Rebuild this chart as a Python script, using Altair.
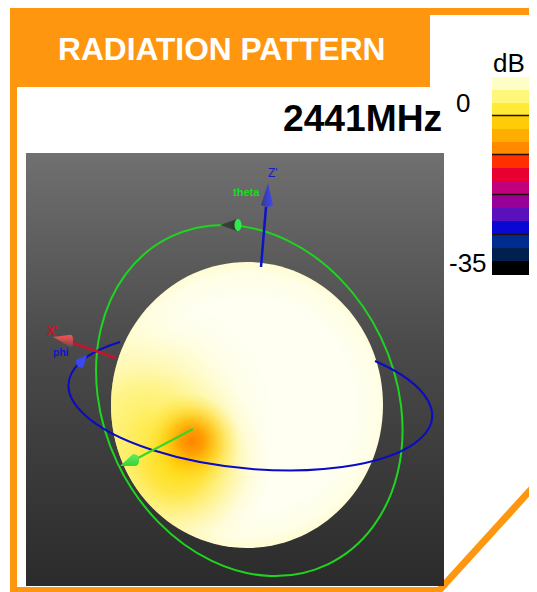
import altair as alt
import pandas as pd

# ---- chart data (page pixels) ----
band_edges = [77, 90, 103, 116, 129, 142, 155, 168, 182, 195, 208, 221, 235, 248, 261, 275]
band_colors = ["#fffdc6", "#fff67c", "#ffea35", "#ffcd08", "#ffad00", "#ff8a00", "#ff3000", "#e80030",
               "#c0007c", "#980098", "#5a10bc", "#0808d2", "#002c90", "#002050", "#000000"]
tick_lines = [115.5, 154.5, 194.5, 234.5]

SX = alt.Scale(domain=[8, 529], range=[0, 521])
SY = alt.Scale(domain=[8, 592], range=[0, 584])
ORANGE = "#ff9610"


def X(f="x"):
    return alt.X(f"{f}:Q", scale=SX, axis=None)


def Y(f="y"):
    return alt.Y(f"{f}:Q", scale=SY, axis=None)


def rect(x0, x1, y0, y1, **kw):
    d = pd.DataFrame({"x": [x0], "x2": [x1], "y": [y0], "y2": [y1]})
    return alt.Chart(d).mark_rect(**kw).encode(x=X(), x2="x2:Q", y=Y(), y2="y2:Q")


def line(xs, ys, color, width, **kw):
    d = pd.DataFrame({"x": xs, "y": ys, "o": range(len(xs))})
    return alt.Chart(d).mark_line(color=color, strokeWidth=width, **kw).encode(
        x=X(), y=Y(), order="o:Q")


def label(t, x, y, size, color, bold=False, align="left"):
    d = pd.DataFrame({"x": [x], "y": [y], "t": [t]})
    return alt.Chart(d).mark_text(
        font="Liberation Sans", fontSize=size, color=color, align=align, baseline="alphabetic",
        fontWeight="bold" if bold else "normal").encode(x=X(), y=Y(), text="t:N")


def shape(path, x, y, fill):
    d = pd.DataFrame({"x": [x], "y": [y]})
    return alt.Chart(d).mark_point(shape=path, size=4, filled=True, fill=fill, opacity=1, strokeWidth=0).encode(x=X(), y=Y())


def ring(path, x, y, color):
    d = pd.DataFrame({"x": [x], "y": [y]})
    return alt.Chart(d).mark_point(shape=path, size=4, filled=False, stroke=color, strokeWidth=2, opacity=1).encode(x=X(), y=Y())


def lin(stops, x1=0, y1=0, x2=0, y2=1):
    return {"gradient": "linear", "x1": x1, "y1": y1, "x2": x2, "y2": y2,
            "stops": [{"offset": o, "color": c} for o, c in stops]}


def rad(cx, cy, r, stops):
    u = lambda px, c: (px - c) / 286 + 0.5
    return {"gradient": "radial", "x1": u(cx, 247), "y1": u(cy, 405), "r1": 0,
            "x2": u(cx, 247), "y2": u(cy, 405), "r2": r / 286,
            "stops": [{"offset": o, "color": c} for o, c in stops]}


ELLIPSE = "M-136,0A136,143 0 1,1 136,0A136,143 0 1,1 -136,0Z"
GREEN_RING = "M-78.5,-163.8A145.9,181.6 -25.6 1,1 78.5,163.8A145.9,181.6 -25.6 1,1 -78.5,-163.8Z"
BLUE_ARC = "M-127.7,-58A182.5,68.1 5.5 1,0 127.3,-39"

frame = [
    rect(10, 430, 8, 87, color=ORANGE),
    rect(430, 537, 8, 15, color=ORANGE),
    rect(10, 17, 87, 592, color=ORANGE),
    rect(10, 441, 587, 592, color=ORANGE),
    line([439, 541], [590.5, 478.5], ORANGE, 7),
]

panel = rect(26, 444, 153, 586, fill=lin([(0, "#707070"), (0.45, "#4a4a4a"), (1, "#2b2b2b")]))

sphere = [
    shape(ELLIPSE, 247, 405, rad(247, 405, 143, [(0, "#fffff2"), (0.75, "#fffff2"), (0.92, "#fffee6"), (1, "#fffcd0")])),
    shape(ELLIPSE, 247, 405, rad(145, 425, 130, [(0, "rgba(255,238,90,0.95)"), (0.3, "rgba(255,240,105,0.75)"), (0.6, "rgba(255,246,150,0.38)"), (0.8, "rgba(255,250,180,0.12)"), (1, "rgba(255,252,200,0)")])),
    shape(ELLIPSE, 247, 405, rad(178, 465, 92, [(0, "rgba(255,220,20,1)"), (0.3, "rgba(255,224,35,0.8)"), (0.6, "rgba(255,232,70,0.4)"), (0.8, "rgba(255,238,100,0.14)"), (1, "rgba(255,240,110,0)")])),
    shape(ELLIPSE, 247, 405, rad(192, 441, 48, [(0, "rgba(255,132,0,1)"), (0.25, "rgba(255,155,0,0.95)"), (0.5, "rgba(255,185,0,0.65)"), (0.75, "rgba(255,210,20,0.28)"), (1, "rgba(255,225,50,0)")])),
]

green_ring = ring(GREEN_RING, 249.3, 400.5, "#1fd51f")
blue_ring = ring(BLUE_ARC, 247.7, 400, "#0a0ac8")

axes = [
    line([261, 266], [267, 207], "#0a14c8", 2.5),
    line([73, 116], [343, 358], "#c81428", 2.5),
    line([193, 138], [429, 458], "#35d825", 2),
]

cones = [
    shape("M0,0L-7,22Q0,26 5,22Z", 268, 183, lin([(0, "#3a3c70"), (0.5, "#3a40c8"), (1, "#4048f0")], x2=1, y2=0)),
    shape("M0,0L17,-6L17,6Z", 220, 225, lin([(0, "#3a443a"), (1, "#2f3a2f")], x2=1, y2=0)),
    shape("M-3.5,0A3.5,6 0 1,1 3.5,0A3.5,6 0 1,1 -3.5,0Z", 238, 225, "#2fe84a"),
    shape("M0,0L16,-2Q19,-3 20,1L20,8Q19,11 16,9Z", 53, 337, lin([(0, "#f05a5a"), (0.55, "#c04848"), (1, "#555555")])),
    shape("M0,0L-11,5Q-12,12 -4,13Z", 87, 355, "#3a48f0"),
    shape("M0,0L13,-12Q20,-12 19,-5Q19,0 14,0Z", 120, 466, lin([(0, "#38d038"), (1, "#60f060")], y1=1, y2=0)),
]

texts = [
    label("RADIATION PATTERN", 58, 60, 31.7, "white", bold=True),
    label("2441MHz", 283, 131, 37.2, "black", bold=True),
    label("dB", 493, 72, 26, "black"),
    label("0", 456, 112, 26, "black"),
    label("-35", 449, 272, 26, "black"),
    label("Z'", 268, 177, 12, "#1a1ac8"),
    label("theta", 233, 196, 11, "#22d822", bold=True),
    label("X'", 47, 335, 12, "#c81428", bold=True),
    label("phi", 53, 356, 10.5, "#1414c8", bold=True),
]

bands = pd.DataFrame({"x": 492, "x2": 535, "y": band_edges[:-1], "y2": band_edges[1:], "c": band_colors})
bar = alt.Chart(bands).mark_rect().encode(
    x=X(), x2="x2:Q", y=Y(), y2="y2:Q", color=alt.Color("c:N", scale=None, legend=None))
ticks = pd.DataFrame({"x": 492, "x2": 535, "y": tick_lines})
tick_rules = alt.Chart(ticks).mark_rule(color="#201008", strokeWidth=1.5).encode(x=X(), x2="x2:Q", y=Y())

chart = alt.layer(
    *frame, panel, *sphere, green_ring, blue_ring, *axes, *cones, *texts, bar, tick_rules
).properties(width=521, height=584, padding=0, autosize=alt.AutoSizeParams(type="none")
).configure_view(stroke=None)

chart.save("out.html", embed_options={"renderer": "svg", "actions": False})
